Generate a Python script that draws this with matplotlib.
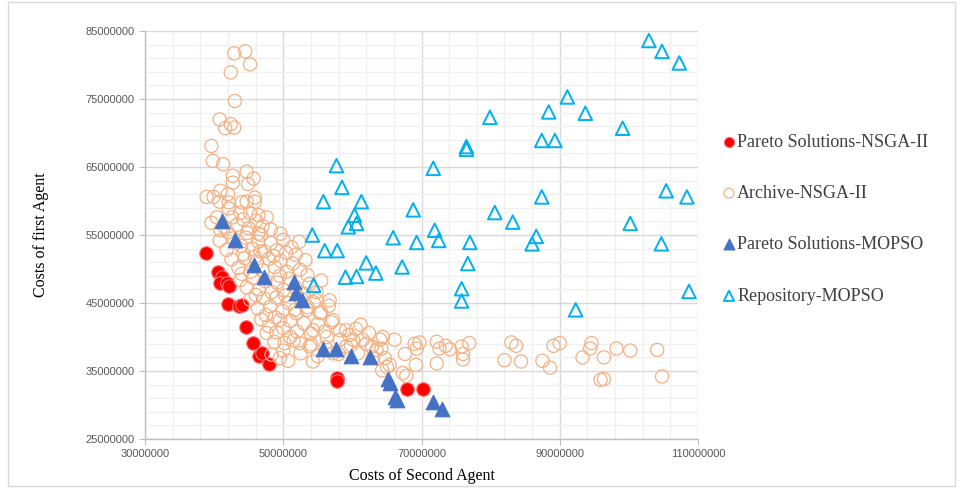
import numpy as np
import matplotlib
matplotlib.use("Agg")
import matplotlib.pyplot as plt
from matplotlib.ticker import MultipleLocator
from matplotlib.patches import Rectangle

# costs in millions (x = second agent, y = first agent)
pareto_nsga_x = [38.8, 40.6, 41.2, 40.8, 41.8, 42.2, 42.0, 43.6, 44.1, 44.6, 45.6, 46.5,
                 46.9, 48.0, 57.8, 57.8, 67.9, 70.2]
pareto_nsga_y = [52.3, 49.5, 48.8, 48.0, 47.9, 47.5, 44.9, 44.6, 44.7, 41.4, 39.1, 37.2,
                 37.6, 36.0, 33.9, 33.6, 32.3, 32.3]

archive_x = [
    # upper tail
    42.9, 44.5, 45.2, 42.4, 43.0, 40.8, 42.4, 41.6, 42.9, 39.6, 39.8, 41.3, 42.7, 44.7, 45.7,
    42.7, 44.9, 38.9, 39.9, 40.9, 42.0, 40.8, 42.1, 44.0, 44.7, 45.9, 45.9, 42.1, 45.2, 46.4,
    # band
    39.6, 40.4, 41.5, 42.6, 43.3, 44.2, 45.0, 46.1, 47.0, 48.2, 42.0, 44.8, 43.8, 47.6, 40.9, 46.4,
    40.8, 41.8, 42.8, 43.9, 44.6, 45.5, 46.4, 47.3, 48.2, 49.1, 50.0, 51.2, 52.3, 44.2, 46.8,
    49.6, 48.6, 51.8, 45.9,
    42.5, 43.5, 44.4, 45.3, 46.2, 47.0, 47.9, 48.8, 49.6, 50.5, 51.4, 52.4, 53.2, 44.0, 50.4, 46.7,
    43.8, 44.7, 45.6, 46.5, 47.4, 48.3, 49.1, 50.0, 50.9, 51.8, 52.9, 53.8, 54.8, 46.0, 49.5,
    55.5, 53.5,
    45.2, 46.3, 47.2, 48.1, 49.0, 49.9, 50.8, 51.7, 52.6, 53.5, 54.4, 55.5, 56.6, 47.5, 50.3,
    53.4, 55.3, 56.7, 54.8,
    46.8, 47.9, 48.8, 50.0, 51.0, 52.0, 53.0, 54.0, 55.0, 56.0, 57.0, 58.2, 59.5, 60.5, 57.2,
    59.1, 54.3, 49.5, 51.9, 47.6, 49.0, 61.2, 62.4,
    48.7, 50.0, 51.5, 52.5, 54.0, 55.0, 56.1, 58.0, 59.8, 60.8, 61.5, 50.7, 54.3, 56.3, 58.2,
    60.1, 53.8, 57.2, 59.1, 49.5, 48.3, 50.2, 51.0, 52.4,
    # lower tail
    62.0, 62.8, 64.0, 64.4, 66.1, 64.2, 63.5, 63.0, 64.7, 65.0, 64.3, 65.4,
    69.0, 69.7, 69.3, 72.2, 72.6, 73.5, 74.1, 75.8, 76.9, 76.0, 72.2, 76.0, 69.2, 67.6, 67.8, 67.3,
    83.0, 83.7, 82.0, 84.4, 87.5, 88.6, 89.1, 90.0, 93.3, 94.6, 94.4, 96.4, 98.2, 100.2, 95.9,
    96.4, 104.1, 104.8,
]
archive_y = [
    81.7, 82.0, 80.1, 78.9, 74.7, 72.0, 71.3, 70.7, 70.8, 68.1, 65.9, 65.4, 63.7, 64.3, 63.3,
    62.7, 62.5, 60.6, 60.6, 61.5, 61.0, 59.9, 59.8, 59.8, 59.9, 60.5, 59.9, 58.9, 58.2, 57.9,
    56.8, 57.6, 56.2, 57.6, 56.5, 57.3, 56.0, 57.1, 56.3, 55.8, 55.4, 55.3, 58.3, 57.6, 55.7, 55.2,
    54.2, 52.8, 54.5, 53.4, 54.6, 53.0, 54.0, 52.6, 53.8, 52.8, 54.3, 53.2, 54.0, 52.2, 55.0,
    55.2, 51.9, 52.1, 51.8,
    51.4, 50.2, 51.6, 49.6, 51.0, 49.8, 51.5, 50.3, 51.2, 49.6, 50.8, 49.9, 51.3, 49.3, 52.4, 52.6,
    48.4, 47.3, 48.7, 47.0, 48.2, 46.6, 48.0, 46.9, 48.6, 47.3, 46.4, 47.8, 46.6, 46.2, 49.0,
    48.3, 49.1,
    45.5, 44.2, 45.7, 44.5, 45.8, 43.8, 45.0, 44.0, 45.6, 44.4, 45.1, 43.6, 44.6, 43.2, 46.1,
    44.0, 43.5, 45.4, 45.4,
    42.6, 41.6, 42.9, 41.3, 42.4, 40.8, 42.0, 40.5, 41.9, 40.8, 42.2, 41.0, 40.3, 41.2, 42.5,
    41.0, 41.0, 42.5, 43.5, 40.6, 40.7, 41.8, 40.6,
    39.3, 38.0, 39.5, 37.6, 38.9, 37.2, 38.5, 37.5, 38.8, 37.6, 39.6, 36.5, 36.4, 40.0, 39.6,
    39.6, 38.6, 37.6, 38.6, 36.9, 37.4, 39.1, 40.0, 39.1,
    39.0, 38.6, 39.6, 40.0, 39.6, 38.3, 38.1, 37.0, 36.9, 35.6, 35.1, 35.9,
    39.0, 39.2, 38.3, 39.3, 38.3, 38.7, 38.2, 38.6, 39.1, 37.5, 36.1, 36.7, 35.9, 37.5, 34.3, 34.7,
    39.2, 38.7, 36.6, 36.4, 36.5, 35.5, 38.7, 39.1, 37.0, 39.1, 38.3, 37.0, 38.3, 38.0, 33.7,
    33.8, 38.1, 34.2,
]

pareto_mopso_x = [41.2, 43.0, 45.8, 47.2, 51.6, 51.8, 52.7, 55.8, 57.6, 59.8, 62.5, 65.1,
                  65.4, 66.1, 66.4, 71.7, 73.0]
pareto_mopso_y = [57.1, 54.2, 50.6, 48.8, 48.1, 46.4, 45.5, 38.2, 38.2, 37.2, 37.0, 33.8,
                  33.3, 31.2, 30.8, 30.5, 29.4]

repo_x = [57.7, 58.5, 55.8, 61.3, 60.3, 59.4, 60.6, 68.8, 71.7, 54.2, 56.0, 57.8, 65.9, 69.3,
          71.9, 72.5, 77.0, 62.0, 67.2, 59.0, 60.6, 63.4, 76.7, 75.8, 75.8, 54.4, 76.5, 76.5,
          79.9, 80.6, 83.2, 86.6, 86.0, 87.4, 87.4, 88.4, 102.9, 104.8, 107.3, 91.1, 93.7,
          99.1, 89.3, 105.4, 108.4, 100.2, 104.7, 108.7, 92.3]
repo_y = [65.2, 62.0, 59.9, 59.9, 57.9, 56.2, 56.7, 58.7, 64.8, 55.0, 52.7, 52.7, 54.6, 53.9,
          55.7, 54.2, 53.9, 50.9, 50.3, 48.8, 48.9, 49.4, 50.8, 47.1, 45.3, 47.6, 68.0, 67.6,
          72.3, 58.3, 56.9, 54.8, 53.7, 68.9, 60.6, 73.1, 83.6, 82.0, 80.3, 75.3, 72.9,
          70.7, 68.9, 61.5, 60.6, 56.7, 53.7, 46.7, 44.0]

M = 1e6

fig = plt.figure(figsize=(9.63, 4.88), dpi=100)
ax = fig.add_axes([0.1506, 0.1004, 0.5742, 0.8361])

ax.scatter(np.array(pareto_nsga_x) * M, np.array(pareto_nsga_y) * M, s=95, marker='o',
           facecolor='#ff0000', edgecolor='#ff7070', linewidth=0.8,
           label='Pareto Solutions-NSGA-II', zorder=3)
ax.scatter(np.array(archive_x) * M, np.array(archive_y) * M, s=90, marker='o',
           facecolor='none', edgecolor='#f4b183', linewidth=0.9,
           label='Archive-NSGA-II', zorder=3)
ax.scatter(np.array(pareto_mopso_x) * M, np.array(pareto_mopso_y) * M, s=110, marker='^',
           facecolor='#4472c4', edgecolor='#4472c4', linewidth=0.8,
           label='Pareto Solutions-MOPSO', zorder=4)
ax.scatter(np.array(repo_x) * M, np.array(repo_y) * M, s=95, marker='^',
           facecolor='none', edgecolor='#00b0f0', linewidth=1.4,
           label='Repository-MOPSO', zorder=4)

ax.set_xlim(30 * M, 110 * M)
ax.set_ylim(25 * M, 85 * M)
# ticks start from the axis minimum: 30M, 50M, ... and 25M, 35M, ...
ax.xaxis.set_major_locator(MultipleLocator(20 * M, offset=10 * M))
ax.xaxis.set_minor_locator(MultipleLocator(4 * M, offset=2 * M))
ax.yaxis.set_major_locator(MultipleLocator(10 * M, offset=5 * M))
ax.yaxis.set_minor_locator(MultipleLocator(2 * M, offset=1 * M))
ax.xaxis.set_major_formatter(plt.FuncFormatter(lambda v, p: f"{int(round(v))}"))
ax.yaxis.set_major_formatter(plt.FuncFormatter(lambda v, p: f"{int(round(v))}"))

ax.grid(which='major', color='#d9d9d9', linewidth=1.0, zorder=0)
ax.grid(which='minor', color='#f0f0f0', linewidth=1.0, zorder=0)
ax.set_axisbelow(True)

for side in ['top', 'right']:
    ax.spines[side].set_visible(False)
for side in ['left', 'bottom']:
    ax.spines[side].set_color('#bfbfbf')
    ax.spines[side].set_linewidth(1.0)

ax.tick_params(which='major', length=4, color='#bfbfbf', labelsize=8, labelcolor='#595959')
ax.tick_params(which='minor', length=0)
for lab in ax.get_xticklabels() + ax.get_yticklabels():
    lab.set_family('Liberation Sans')

ax.set_xlabel('Costs of Second Agent', family='Liberation Serif', fontsize=11.5,
              color='#000000', labelpad=6)
ax.set_ylabel('Costs of first Agent', family='Liberation Serif', fontsize=11.5,
              color='#000000', labelpad=26)

leg = fig.legend(loc='upper left', bbox_to_anchor=(0.742, 0.741), frameon=False,
                 prop={'family': 'Liberation Serif', 'size': 13},
                 handletextpad=0.05, handlelength=0.8, labelspacing=1.9,
                 markerscale=0.75, borderaxespad=0)
for t in leg.get_texts():
    t.set_color('#404040')

# outer chart border
fig.patches.append(Rectangle((0.008, 0.004), 0.984, 0.992, transform=fig.transFigure,
                             fill=False, edgecolor='#d9d9d9', linewidth=1.0))

fig.savefig('out.png', dpi=100)
